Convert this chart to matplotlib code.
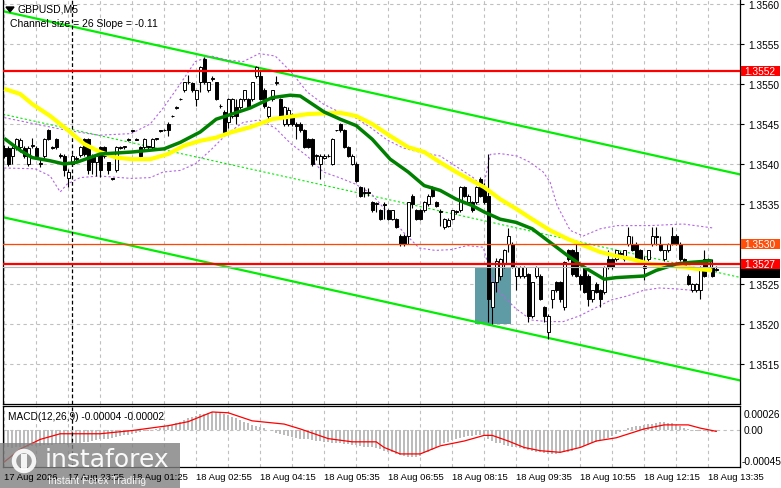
import matplotlib
matplotlib.use("Agg")
import matplotlib.pyplot as plt
from matplotlib.patches import Rectangle, Polygon, Circle
import numpy as np

W, H = 781, 489
BASE = 1.3500      # prices below are pips above 1.3500
PIP = 1e-4

# GBPUSD M5 candles, pips above BASE
opens = [
    42.0, 42.0, 41.0, 42.1, 42.1, 42.0, 40.0, 42.3, 42.0, 40.1,
    41.0, 44.2, 42.1, 43.1, 41.1, 41.0, 38.2, 40.0, 40.6, 41.1,
    43.1, 43.1, 41.0, 40.2, 42.1, 42.1, 40.2, 38.2, 39.2, 42.1,
    42.1, 43.0, 44.1, 43.1, 42.1, 42.1, 42.2, 42.1, 43.1, 44.2,
    44.3, 45.0, 46.0, 47.0, 48.1, 49.2, 50.2, 50.1, 48.1, 50.2,
    53.1, 49.2, 50.6, 50.2, 47.3, 46.5, 45.2, 46.0, 47.1, 47.1,
    48.1, 48.1, 48.1, 51.0, 51.0, 49.2, 46.0, 48.1, 50.1, 48.1,
    45.0, 45.0, 46.2, 45.0, 45.0, 44.2, 43.1, 43.1, 41.0, 40.0,
    40.8, 41.0, 40.0, 44.2, 45.0, 44.2, 42.1, 40.0, 40.0, 37.1,
    36.4, 36.5, 35.2, 35.0, 34.2, 35.0, 34.2, 33.1, 33.1, 31.0,
    31.0, 31.0, 36.0, 34.2, 34.2, 34.2, 35.0, 37.1, 35.2, 34.0,
    32.1, 32.3, 33.1, 34.0, 34.2, 37.1, 35.2, 35.2, 35.2, 38.1,
    37.1, 36.0, 22.1, 25.2, 26.0, 27.5, 30.0, 30.0, 26.0, 26.0,
    26.0, 26.2, 21.0, 26.0, 26.0, 22.1, 19.0, 23.1, 25.2, 25.2,
    22.1, 29.2, 29.2, 29.0, 26.0, 27.1, 26.0, 23.1, 25.0, 24.2,
    24.0, 28.1, 28.1, 28.1, 28.9, 28.1, 30.0, 30.0, 30.0, 29.2,
    27.0, 28.1, 30.0, 31.0, 30.0, 28.1, 29.2, 31.0, 31.0, 30.0,
    28.1, 26.0, 24.2, 24.2, 24.2, 28.1, 27.1, 27.1, 26.8,
]
highs = [
    42.4, 42.3, 42.3, 43.3, 43.3, 42.2, 42.2, 43.2, 42.2, 40.8,
    43.3, 44.4, 42.3, 43.3, 41.4, 41.2, 39.4, 41.2, 41.0, 42.3,
    43.3, 43.2, 41.2, 41.2, 42.3, 42.3, 40.3, 38.3, 42.3, 42.2,
    42.3, 43.2, 44.3, 43.3, 42.3, 43.3, 42.3, 43.3, 43.3, 44.3,
    44.4, 45.2, 46.1, 47.2, 48.2, 50.3, 51.1, 50.3, 49.3, 52.3,
    53.4, 50.3, 51.0, 50.3, 47.5, 46.7, 48.3, 48.3, 48.1, 48.3,
    49.3, 48.3, 50.3, 52.3, 51.8, 49.5, 47.3, 49.3, 51.0, 48.3,
    47.3, 47.1, 46.4, 45.2, 45.2, 44.4, 43.3, 43.3, 41.2, 41.2,
    41.2, 41.2, 43.3, 44.3, 45.1, 44.4, 42.3, 41.2, 40.2, 37.3,
    37.1, 37.0, 35.4, 35.2, 34.4, 35.2, 34.4, 34.3, 33.3, 31.2,
    31.2, 35.3, 36.2, 34.4, 34.4, 35.4, 36.2, 37.3, 35.4, 34.4,
    33.3, 33.2, 34.3, 34.3, 37.3, 37.3, 36.2, 35.4, 37.3, 38.4,
    37.6, 41.2, 25.3, 28.2, 28.3, 29.4, 32.0, 30.2, 27.3, 27.3,
    27.3, 26.4, 25.3, 27.3, 26.2, 22.3, 21.2, 24.3, 25.4, 25.4,
    27.9, 29.4, 29.4, 30.4, 26.2, 27.3, 26.2, 24.3, 25.2, 24.4,
    27.3, 29.2, 28.3, 29.3, 29.1, 29.3, 32.1, 31.0, 30.2, 29.4,
    28.5, 29.3, 32.1, 32.1, 31.0, 29.3, 30.1, 32.1, 31.2, 30.2,
    28.3, 26.2, 25.1, 25.1, 27.3, 29.2, 28.2, 28.1, 27.2,
]
lows = [
    40.8, 39.8, 40.0, 41.8, 41.5, 40.8, 39.8, 42.0, 40.8, 39.6,
    40.8, 43.0, 41.9, 41.9, 40.8, 38.5, 37.1, 39.8, 40.3, 40.9,
    41.0, 38.8, 38.7, 38.5, 38.4, 40.8, 38.8, 38.0, 39.0, 41.9,
    41.9, 42.9, 44.0, 43.0, 40.9, 41.9, 41.9, 41.9, 43.0, 44.0,
    44.1, 43.5, 45.9, 46.9, 48.0, 49.0, 50.0, 49.0, 47.2, 49.0,
    50.0, 49.0, 50.4, 48.0, 47.0, 43.8, 44.5, 45.8, 45.0, 46.9,
    47.9, 46.9, 47.9, 50.8, 48.0, 47.0, 45.2, 47.9, 49.9, 45.8,
    44.8, 44.8, 44.8, 43.1, 44.0, 42.0, 42.0, 39.8, 40.5, 38.1,
    40.6, 40.9, 39.9, 44.1, 44.0, 42.0, 40.9, 39.9, 37.8, 35.9,
    35.9, 36.0, 34.0, 34.0, 33.0, 33.1, 33.0, 33.0, 32.0, 29.8,
    29.8, 30.0, 34.5, 33.0, 33.0, 34.0, 34.8, 35.9, 34.6, 32.2,
    31.9, 32.1, 33.0, 33.8, 34.0, 35.9, 35.0, 34.0, 35.0, 35.9,
    35.0, 20.2, 20.0, 24.0, 25.5, 27.0, 29.0, 27.0, 24.2, 25.8,
    25.8, 20.2, 20.8, 25.8, 23.0, 20.3, 18.1, 22.0, 24.0, 22.8,
    21.8, 27.9, 26.0, 25.9, 24.2, 23.9, 22.3, 22.8, 23.9, 22.1,
    23.8, 26.9, 26.9, 27.9, 28.7, 27.9, 29.8, 29.1, 27.9, 27.9,
    25.5, 27.9, 29.8, 29.9, 29.1, 27.9, 29.0, 29.9, 29.9, 27.9,
    27.0, 24.9, 24.0, 24.0, 23.1, 25.9, 26.9, 25.9, 26.6,
]
closes = [
    41.0, 40.0, 42.0, 43.1, 43.0, 41.0, 42.0, 42.4, 41.0, 40.0,
    43.1, 43.1, 42.0, 42.1, 41.0, 39.2, 39.0, 41.0, 40.8, 42.1,
    41.3, 39.2, 40.2, 41.0, 39.2, 41.0, 39.2, 38.1, 42.1, 42.0,
    42.2, 43.1, 44.2, 43.0, 41.0, 43.1, 42.1, 43.1, 43.2, 44.1,
    44.2, 44.2, 46.0, 47.1, 48.1, 50.2, 50.3, 49.2, 49.2, 52.1,
    50.2, 50.2, 50.8, 48.1, 47.2, 44.0, 48.1, 48.1, 46.0, 48.1,
    49.2, 47.1, 50.2, 52.1, 48.1, 47.3, 47.1, 49.2, 50.2, 46.0,
    47.1, 46.8, 45.0, 44.8, 44.2, 42.1, 42.1, 40.0, 41.1, 41.0,
    41.0, 41.0, 43.1, 44.2, 44.2, 42.1, 41.0, 41.0, 37.9, 36.0,
    36.5, 36.4, 34.2, 35.1, 33.1, 34.9, 33.1, 34.2, 32.1, 30.0,
    30.0, 35.2, 35.0, 33.1, 33.1, 35.2, 36.0, 36.0, 34.8, 34.1,
    33.1, 33.0, 34.2, 34.1, 37.1, 36.0, 36.0, 34.2, 37.1, 36.0,
    35.2, 23.1, 25.2, 27.9, 28.1, 29.2, 31.0, 27.1, 27.1, 27.1,
    27.1, 21.0, 25.2, 27.1, 23.1, 21.0, 21.0, 24.2, 24.2, 23.1,
    27.7, 28.1, 26.3, 26.0, 25.0, 24.0, 23.1, 24.2, 24.0, 23.1,
    27.1, 27.1, 27.1, 29.2, 28.8, 29.2, 31.0, 29.2, 28.1, 28.1,
    27.2, 29.2, 31.0, 30.9, 29.2, 29.2, 30.0, 30.0, 30.0, 28.1,
    27.1, 25.0, 25.0, 25.0, 27.1, 26.0, 28.1, 26.0, 26.8,
]

# moving averages (bar index, pips)
green_ma_idx = [0, 4, 7, 11.5, 15, 18, 24, 32, 40, 44, 49, 53, 57, 61.5, 67, 71.5, 74,
                80, 84, 88, 92, 96.5, 101, 105, 109, 113, 117, 120, 124, 128, 132,
                136.5, 141, 145, 150, 153, 160, 163, 168, 171.5, 177]
green_ma = [43.2, 41.7, 40.8, 40.4, 40.0, 40.2, 41.25, 41.5, 41.9, 42.7, 44.0, 45.6, 46.25,
            47.0, 48.3, 48.6, 48.5, 46.5, 45.6, 44.8, 43.1, 40.6, 39.0, 37.3, 36.7, 35.6,
            34.8, 34.0, 33.1, 32.7, 31.9, 30.2, 28.5, 27.1, 25.6, 25.8, 26.0, 26.7, 27.5,
            27.7, 27.9]
yellow_ma_idx = [0, 4, 7, 11.5, 16, 20, 24, 28, 32, 36.5, 41, 45, 49, 53, 57, 61.5, 67, 76,
                 84, 88, 92, 96.5, 101, 105, 109, 113, 117, 120, 124, 128, 132, 136.5, 141,
                 145, 149, 153, 157, 161.5, 166, 170, 173, 177]
yellow_ma = [49.4, 48.75, 47.5, 46.0, 44.2, 42.5, 41.5, 40.8, 40.6, 40.6, 41.25, 42.3, 42.9,
             43.3, 44.0, 44.6, 45.6, 46.25, 46.4, 46.0, 45.0, 43.5, 42.1, 41.5, 40.2, 39.0,
             37.9, 37.1, 35.6, 34.4, 33.1, 31.7, 30.6, 29.8, 29.0, 28.5, 28.1, 27.5, 27.3,
             27.1, 26.9, 26.7]

# envelope bands (bar index, pips)
band_up_idx = [0, 7.75, 15.75, 23.75, 31.75, 36.5, 39.75, 44, 47.75, 51.75, 55.75, 59.75,
               63.75, 67.75, 71.75, 75.75, 79.75, 83.75, 87.75, 91.75, 95.75, 99.75, 103.75,
               109, 117.25, 119.75, 121.5, 124, 128.25, 131.5, 134.75, 136.5, 138.25, 141.5,
               144.75, 149, 153.25, 161.5, 169.75, 177.25]
band_up = [45.8, 45.0, 44.2, 43.6, 43.8, 45.0, 47.0, 50.0, 52.8, 53.5, 53.0, 52.8, 53.8, 53.5,
           51.5, 49.0, 47.5, 46.5, 45.8, 44.5, 43.0, 42.0, 41.5, 41.0, 38.3, 37.0, 41.2, 41.3,
           41.0, 40.2, 39.0, 37.7, 34.8, 31.7, 31.0, 31.9, 32.3, 32.3, 32.5, 32.0]
band_dn_idx = [0, 7.75, 11.5, 14, 15.75, 19, 23.75, 31.75, 36.5, 39.75, 44, 47.75, 51.75,
               55.75, 59.75, 63.75, 67.75, 71.75, 75.75, 79.75, 83.75, 87.75, 91.75, 95.75,
               99.75, 103.75, 107.75, 111.75, 115.75, 119.75, 121.75, 123.75, 127.75, 131.75,
               135.75, 139.75, 143.75, 147.75, 151.75, 155.75, 159.75, 163.75, 167.75, 172.25]
band_dn = [39.5, 39.4, 38.5, 36.5, 37.5, 38.3, 38.5, 38.2, 38.3, 39.0, 39.2, 40.0, 41.8, 43.8,
           45.2, 45.5, 44.5, 42.5, 41.0, 39.0, 38.3, 37.5, 36.3, 34.0, 31.5, 29.5, 29.2, 29.3,
           29.8, 29.6, 26.0, 24.0, 22.0, 20.5, 20.3, 20.3, 21.0, 22.0, 23.0, 23.5, 24.2, 24.5,
           24.4, 24.2]

# regression channel (ends of the chart, pips)
chan_idx = [-0.3, 183.95]
chan_top = [59.1, 38.7]
chan_bot = [33.35, 12.95]

levels_red = [51.66, 27.5]
level_orange = 30.0
bid = 27.1
zone = (117.7, 126.7, 20.0, 27.1)   # x0, x1, low, high

# MACD(12,26,9): histogram per bar, signal line samples (units of 1e-5)
macd_hist = [
    -22, -22, -23, -22, -22, -21, -21, -20, -20, -20,
    -19, -19, -19, -18, -18, -18, -19, -18, -17, -16,
    -15, -15, -14, -13, -12, -12, -11, -10, -9, -8,
    -7, -6, -5, -4, -3, -2, -1, 0, 1, 2,
    4, 5, 6, 8, 10, 12, 14, 16, 17, 19,
    20, 21, 22, 22, 21, 20, 18, 16, 14, 12,
    10, 8, 6, 5, 3, 2, 0, -2, -4, -5,
    -7, -8, -9, -10, -11, -11, -12, -13, -14, -14,
    -15, -15, -16, -16, -17, -18, -18, -19, -19, -20,
    -21, -22, -22, -23, -24, -26, -27, -28, -30, -31,
    -33, -34, -34, -34, -32, -29, -27, -25, -22, -19,
    -17, -15, -13, -11, -10, -9, -8, -8, -7, -7,
    -8, -12, -14, -16, -17, -19, -20, -21, -22, -23,
    -24, -25, -26, -27, -28, -29, -30, -30, -30, -29,
    -28, -27, -26, -24, -21, -20, -19, -17, -15, -13,
    -12, -10, -8, -5, -3, -1, 2, 3, 4, 5,
    6, 7, 7, 8, 9, 9, 8, 8, 6, 4,
    2, 1, 0, -1, -2, -2, -3, -3, -3,
]
signal_idx = [0, 4, 9, 14, 24, 32, 41, 46, 52, 56, 62, 70, 74, 81, 87, 93, 95, 99, 104,
              109, 115, 120, 122, 126, 130, 134, 139, 144, 148, 153, 160, 165, 171, 174, 178]
signal = [-40, -24, -12, -5, -5, -1, 5, 10, 22, 21, 11, 7, 1, -11, -15, -15, -22, -30, -30,
          -20, -14, -7, -7, -14, -22, -26, -28, -22, -14, -10, 1, 6, 6, 2, -2]

price_ticks = [1.3515, 1.3520, 1.3525, 1.3530, 1.3535, 1.3540, 1.3545, 1.3550, 1.3555, 1.3560]
time_labels = ["17 Aug 2026", "17 Aug 23:55", "18 Aug 01:25", "18 Aug 02:55", "18 Aug 04:15",
               "18 Aug 05:35", "18 Aug 06:55", "18 Aug 08:15", "18 Aug 09:35", "18 Aug 10:55",
               "18 Aug 12:15", "18 Aug 13:35"]
day_break = 17

plt.rcParams['font.family'] = ['Liberation Sans', 'DejaVu Sans']

XL = (-0.3, 183.95)
P_TOP, P_BOT = 60.625, 10.0   # pips at main panel top / bottom


def px(v):
    return BASE + np.asarray(v, dtype=float) * PIP


def price_y(p):
    # pixel row of a pip value in the main panel
    return (P_TOP - p) / (P_TOP - P_BOT) * 405


def idx_x(i):
    return 3 + (i - XL[0]) * 737 / (XL[1] - XL[0])


fig = plt.figure(figsize=(W / 100, H / 100), dpi=100)
ax = fig.add_axes([3 / W, 1 - 405 / H, 737 / W, 405 / H])
mx = fig.add_axes([3 / W, 1 - 468 / H, 737 / W, 61 / H])

grid_kw = dict(color='#c0c0c0', linestyle=(0, (3, 3)), linewidth=0.8)

# --- main price panel ---
ax.set_xlim(*XL)
ax.set_ylim(px(P_BOT), px(P_TOP))
ax.set_axisbelow(True)
ax.set_xticks(range(0, 184, 8))
ax.set_yticks(price_ticks)
ax.grid(True, **grid_kw)
ax.yaxis.tick_right()
# 1.3530 sits under the orange level tag, so its tick text is left empty
ax.set_yticklabels(["" if abs(t - 1.3530) < 1e-9 else f"{t:.4f}" for t in price_ticks],
                   fontsize=7.3)
ax.tick_params(axis='y', length=3, width=0.8, pad=3)
ax.tick_params(axis='x', length=0, labelbottom=False)
ax.spines['top'].set_visible(False)
for s in ('left', 'right', 'bottom'):
    ax.spines[s].set_linewidth(0.9)

ax.add_patch(Rectangle((zone[0], px(zone[2])), zone[1] - zone[0], (zone[3] - zone[2]) * PIP,
                       facecolor='#5f9ba4', edgecolor='none', zorder=1))

mid = [(a + b) / 2 for a, b in zip(chan_top, chan_bot)]
ax.plot(chan_idx, px(chan_top), color='#00ee00', lw=1.6, zorder=2)
ax.plot(chan_idx, px(chan_bot), color='#00ee00', lw=1.6, zorder=2)
ax.plot(chan_idx, px(mid), color='#00ee00', lw=0.8, ls=(0, (2, 2)), zorder=2)

ax.plot(band_up_idx, px(band_up), color='#b565e6', lw=0.8, ls=(0, (2, 2)), zorder=3)
ax.plot(band_dn_idx, px(band_dn), color='#b565e6', lw=0.8, ls=(0, (2, 2)), zorder=3)

ax.axvline(day_break, color='black', lw=0.9, ls=(0, (3, 2)), zorder=3)

idx = np.arange(len(closes))
o, h, l, c = px(opens), px(highs), px(lows), px(closes)
up = c >= o
ax.vlines(idx, l, h, color='black', lw=0.8, zorder=4)
lo = np.minimum(o, c)
hh = np.maximum(np.abs(c - o), 0.03 * PIP)
ax.bar(idx[up], hh[up], bottom=lo[up], width=0.72, facecolor='white',
       edgecolor='black', linewidth=0.7, zorder=5)
ax.bar(idx[~up], hh[~up], bottom=lo[~up], width=0.72, facecolor='black',
       edgecolor='black', linewidth=0.7, zorder=5)

ax.plot(yellow_ma_idx, px(yellow_ma), color='#ffff00', lw=3.0, zorder=6,
        solid_capstyle='butt')
ax.plot(green_ma_idx, px(green_ma), color='#008000', lw=2.5, zorder=6,
        solid_capstyle='butt')

ax.axhline(px(bid), color='#b8b8b8', lw=0.8, zorder=6)
ax.axhline(px(level_orange), color='#ff4500', lw=0.9, zorder=7)
for lv in levels_red:
    ax.axhline(px(lv), color='#ff0000', lw=1.6, zorder=7)

# --- MACD panel ---
mx.set_xlim(*XL)
mx.set_ylim(-0.000462, 0.000294)
mx.set_axisbelow(True)
mx.set_xticks(range(0, 184, 8))
mx.set_yticks([0])
mx.grid(True, **grid_kw)
mx.tick_params(length=0, labelbottom=False, labelleft=False)
for s in mx.spines.values():
    s.set_linewidth(0.9)
mx.bar(idx, np.array(macd_hist) * 1e-5, width=0.55, color='#bcbcbc', zorder=2)
mx.plot(signal_idx, np.array(signal) * 1e-5, color='#ff0000', lw=0.9, zorder=3)
mx.axvline(day_break, color='black', lw=0.9, ls=(0, (3, 2)), zorder=3)

# --- pixel overlay for labels and watermark ---
ov = fig.add_axes([0, 0, 1, 1], zorder=10)
ov.set_xlim(0, W)
ov.set_ylim(H, 0)
ov.axis('off')

ov.add_patch(Polygon([(6, 8), (14, 8), (10, 13)], closed=True, color='black'))
ov.text(18, 10, "GBPUSD,M5", fontsize=7.5, va='center', ha='left')
ov.text(10, 24, "Channel size = 26 Slope = -0.11", fontsize=7.5, va='center', ha='left')
ov.text(8, 417, "MACD(12,26,9) -0.00004 -0.00002", fontsize=7.3, va='center', ha='left')

ov.text(744, 415, "0.00026", fontsize=7.3, va='center', ha='left')
ov.text(744, 430.5, "0.00", fontsize=7.3, va='center', ha='left')
ov.text(742, 462, "-0.00045", fontsize=7.3, va='center', ha='left')

for k, lab in enumerate(time_labels):
    ov.text(idx_x(16 * k), 478, lab, fontsize=6.8, va='center', ha='left')


def price_tag(p, face, text):
    yc = price_y(p)
    ov.add_patch(Rectangle((741, yc - 5.2), 39, 10.4, facecolor=face, edgecolor='none'))
    if text:
        ov.text(744, yc, text, fontsize=7.3, color='white', va='center', ha='left')


price_tag(bid - 0.7, 'black', "")
price_tag(levels_red[1], '#ff0000', "1.3527")
price_tag(level_orange, '#ff4d0a', "1.3530")
price_tag(levels_red[0], '#ff0000', "1.3552")

# instaforex watermark
ov.add_patch(Rectangle((0, 444), 180, 45, facecolor='#808080', edgecolor='none', alpha=0.8))
ov.add_patch(Circle((24, 462), 10, facecolor='none', edgecolor='white', lw=3.2, alpha=0.9))
ov.add_patch(Rectangle((21, 455), 6, 16, facecolor='white', edgecolor='none', alpha=0.9))
ov.text(45, 460, "instaforex", fontsize=18, color='white', va='center', ha='left',
        family='DejaVu Sans', alpha=0.95)
ov.text(48, 481, "Instant Forex Trading", fontsize=7.5, color='white', va='center',
        ha='left', alpha=0.9)

fig.savefig("out.png", dpi=100)
